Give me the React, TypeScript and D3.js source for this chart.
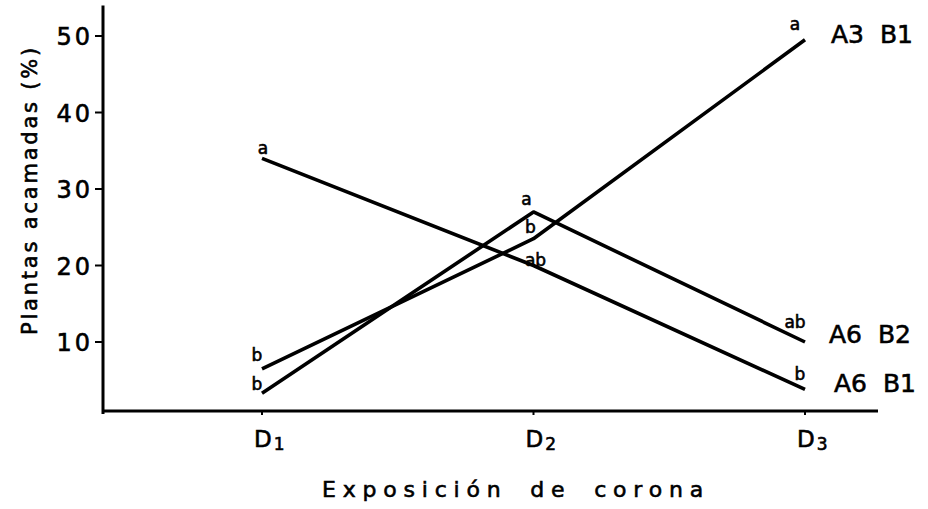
import React from 'react';
import * as d3 from 'd3';

// categories on the x axis (D + subscript)
const doses = ['D1', 'D2', 'D3'];
const doseMain = ['D', 'D', 'D'];
const doseSub = ['1', '2', '3'];

// y ticks
const yTicks = [10, 20, 30, 40, 50];

// series (plantas acamadas %)
const seriesNames = ['A3 B1', 'A6 B2', 'A6 B1'];
const a3b1 = [6.5, 23.5, 49.5];
const a6b2 = [3.3, 27, 10];
const a6b1 = [34, 20, 3.8];

// significance letters
const a3b1Letters = ['b', 'b', 'a'];
const a6b2Letters = ['b', 'a', 'ab'];
const a6b1Letters = ['a', 'ab', 'b'];

const seriesValues = [a3b1, a6b2, a6b1];
const seriesLetters = [a3b1Letters, a6b2Letters, a6b1Letters];

// offsets of the letters from their point, [dx, dy] per point
const letterOffsets = [
  [[-5, -8], [-3, -6], [-10, -10]],
  [[-5, -3], [-7, -7], [-10, -14]],
  [[1, -4], [2, 0], [-5, -9]],
];
// series name offsets from the last point
const nameOffsets = [[26, 3], [24, 1], [29, 3]];

const FONT = 'DejaVu Sans, sans-serif';

export default function App() {
  const width = 928;
  const height = 509;

  const x = d3.scalePoint<string>().domain(doses).range([262, 805]);
  const y = d3.scaleLinear().domain([0, 50]).range([418.5, 36]);

  const axisY = 411;
  const axisX = 103;

  const line = d3
    .line<number>()
    .x((_, i) => x(doses[i]) as number)
    .y((d) => y(d));

  // slightly heavier glyphs, like the lettering guide of the original
  const ink = { stroke: '#000', strokeWidth: 0.6 };

  return (
    <svg
      width={width}
      height={height}
      style={{ position: 'absolute', left: 0, top: 0, background: '#fff' }}
      fontFamily={FONT}
    >
      {/* axes */}
      <line x1={axisX} x2={axisX} y1={y(54)} y2={axisY + 3} stroke="#000" strokeWidth={3} />
      <line x1={axisX - 1} x2={878} y1={axisY} y2={axisY} stroke="#000" strokeWidth={3} />

      {yTicks.map((t) => (
        <g key={t}>
          <line x1={axisX - 8} x2={axisX} y1={y(t)} y2={y(t)} stroke="#000" strokeWidth={2} />
          <text
            x={axisX - 10}
            y={y(t)}
            dy="0.38em"
            textAnchor="end"
            fontSize={24}
            letterSpacing={3}
            {...ink}
          >
            {t}
          </text>
        </g>
      ))}

      {doses.map((d, i) => (
        <g key={d}>
          <line x1={x(d)} x2={x(d)} y1={axisY} y2={axisY + 4} stroke="#000" strokeWidth={2} />
          <text x={(x(d) as number) - 8} y={447} fontSize={23} {...ink}>
            {doseMain[i]}
            <tspan fontSize={17} dy={3} dx={2}>{doseSub[i]}</tspan>
          </text>
        </g>
      ))}

      <text
        transform={`translate(37,190) rotate(-90)`}
        textAnchor="middle"
        fontSize={21}
        letterSpacing={2.8}
        {...ink}
      >
        Plantas acamadas (%)
      </text>

      <text x={322} y={497} fontSize={22} letterSpacing={6.8} wordSpacing={9} {...ink}>
        Exposición de corona
      </text>

      {/* series */}
      {seriesValues.map((vals, s) => (
        <g key={seriesNames[s]}>
          <path d={line(vals) || ''} fill="none" stroke="#000" strokeWidth={3.6} strokeLinejoin="round" />
          {vals.map((v, i) => (
            <text
              key={i}
              x={(x(doses[i]) as number) + letterOffsets[s][i][0]}
              y={y(v) + letterOffsets[s][i][1]}
              textAnchor="middle"
              fontSize={17}
              {...ink}
            >
              {seriesLetters[s][i]}
            </text>
          ))}
          <text
            x={(x(doses[2]) as number) + nameOffsets[s][0]}
            y={y(vals[2]) + nameOffsets[s][1]}
            fontSize={25}
            wordSpacing={8}
            {...ink}
          >
            {seriesNames[s]}
          </text>
        </g>
      ))}
    </svg>
  );
}
